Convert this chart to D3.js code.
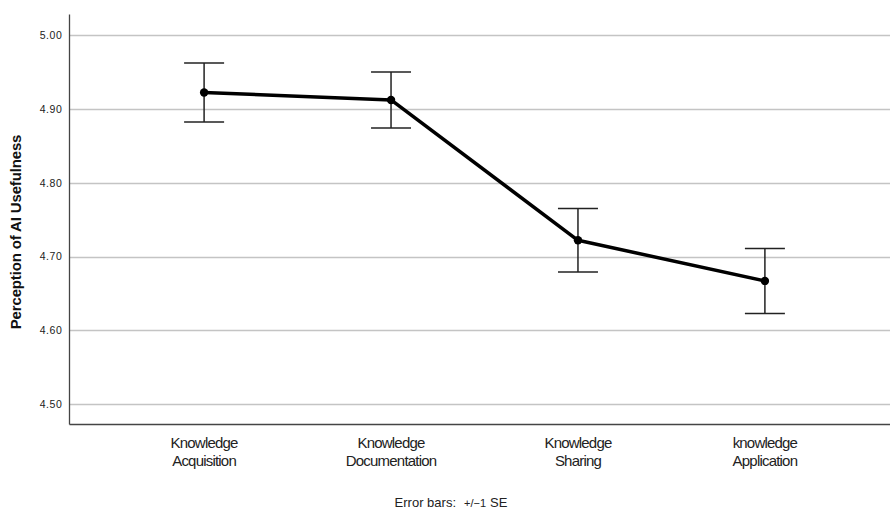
<!DOCTYPE html>
<html>
<head>
<meta charset="utf-8">
<script src="https://cdn.jsdelivr.net/npm/d3@7"></script>
<style>
  body { margin: 0; background: #fff; }
  svg { display: block; }
</style>
</head>
<body>
<svg id="chart" width="890" height="510"></svg>
<script>
var categories = [['Knowledge', 'Acquisition'], ['Knowledge', 'Documentation'], ['Knowledge', 'Sharing'], ['knowledge', 'Application']];
var means = [4.922, 4.912, 4.722, 4.667];
var se = [0.040, 0.038, 0.043, 0.044];
var yTicks = [4.5, 4.6, 4.7, 4.8, 4.9, 5.0];

var svg = d3.select('#chart'),
  width = 890,
  plotLeft = 69.5, plotTop = 14.5, plotBottom = 424.5;

var x = d3.scalePoint().domain(d3.range(categories.length)).range([plotLeft, 899.5]).padding(0.72);
var y = d3.scaleLinear().domain([4.4726, 5.0277]).range([plotBottom, plotTop]);

// gridlines
svg.append('g').selectAll('line').data(yTicks).enter().append('line')
  .attr('x1', plotLeft).attr('x2', width)
  .attr('y1', d => Math.round(y(d)) + 0.5).attr('y2', d => Math.round(y(d)) + 0.5)
  .attr('stroke', '#c4c4c4').attr('stroke-width', 1.5);

// axes
var yAxis = svg.append('g').attr('transform', `translate(${plotLeft},0)`)
  .call(d3.axisLeft(y).tickValues(yTicks).tickFormat(d3.format('.2f')).tickSize(0).tickPadding(7));
yAxis.select('.domain').remove();
yAxis.selectAll('text').attr('font-family', 'Liberation Sans, Arial, sans-serif')
  .attr('font-size', 10.5).attr('letter-spacing', 0.6).attr('fill', '#222');

svg.append('line').attr('x1', plotLeft).attr('x2', plotLeft).attr('y1', plotTop).attr('y2', plotBottom)
  .attr('stroke', '#444').attr('stroke-width', 1.3);
svg.append('line').attr('x1', plotLeft).attr('x2', width).attr('y1', plotBottom).attr('y2', plotBottom)
  .attr('stroke', '#444').attr('stroke-width', 1.3);

// category labels
var catLabels = svg.append('g').selectAll('text').data(categories).enter().append('text')
  .attr('x', (d, i) => x(i))
  .attr('y', 448)
  .attr('text-anchor', 'middle')
  .attr('font-family', 'Liberation Sans, Arial, sans-serif')
  .attr('font-size', 15).attr('letter-spacing', -0.8).attr('fill', '#222');
catLabels.each(function(d, i) {
  d3.select(this).selectAll('tspan').data(d).enter().append('tspan')
    .attr('x', x(i)).attr('dy', (t, j) => j === 0 ? 0 : 17.5)
    .text(t => t);
});

// error bars
var capW = 20;
var eb = svg.append('g').selectAll('g').data(means).enter().append('g');
eb.append('line')
  .attr('x1', (d, i) => x(i)).attr('x2', (d, i) => x(i))
  .attr('y1', (d, i) => y(d + se[i])).attr('y2', (d, i) => y(d - se[i]))
  .attr('stroke', '#222').attr('stroke-width', 1.5);
eb.append('line')
  .attr('x1', (d, i) => x(i) - capW).attr('x2', (d, i) => x(i) + capW)
  .attr('y1', (d, i) => y(d + se[i])).attr('y2', (d, i) => y(d + se[i]))
  .attr('stroke', '#222').attr('stroke-width', 1.5);
eb.append('line')
  .attr('x1', (d, i) => x(i) - capW).attr('x2', (d, i) => x(i) + capW)
  .attr('y1', (d, i) => y(d - se[i])).attr('y2', (d, i) => y(d - se[i]))
  .attr('stroke', '#222').attr('stroke-width', 1.5);

// mean line
var line = d3.line().x((d, i) => x(i)).y(d => y(d));
svg.append('path').datum(means).attr('d', line)
  .attr('fill', 'none').attr('stroke', '#000').attr('stroke-width', 3.5).attr('stroke-linejoin', 'round');
svg.append('g').selectAll('circle').data(means).enter().append('circle')
  .attr('cx', (d, i) => x(i)).attr('cy', d => y(d)).attr('r', 4.2).attr('fill', '#000');

// y label
svg.append('text')
  .attr('transform', 'translate(21,232) rotate(-90)')
  .attr('text-anchor', 'middle')
  .attr('font-family', 'Liberation Sans, Arial, sans-serif')
  .attr('font-weight', 'bold').attr('font-size', 15).attr('letter-spacing', -0.15)
  .attr('fill', '#111')
  .text('Perception of AI Usefulness');

// footnote
var foot = svg.append('text')
  .attr('x', 451).attr('y', 507)
  .attr('text-anchor', 'middle')
  .attr('font-family', 'Liberation Sans, Arial, sans-serif')
  .attr('font-size', 13).attr('fill', '#222');
foot.append('tspan').text('Error bars:');
foot.append('tspan').attr('dx', 8).attr('font-size', 11).text('+/\u22121');
foot.append('tspan').attr('dx', 4).text('SE');
</script>
</body>
</html>
